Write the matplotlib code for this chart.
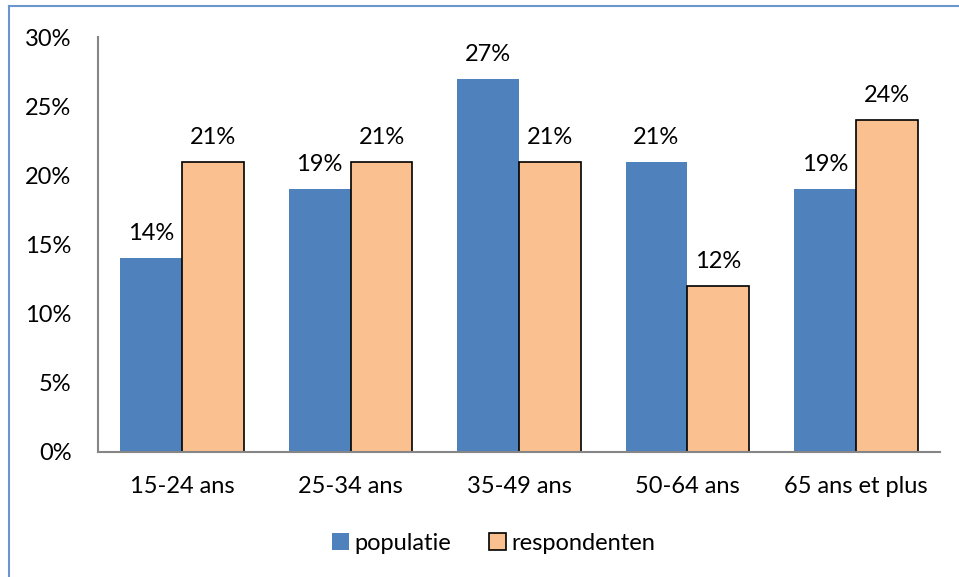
import numpy as np
import matplotlib
matplotlib.use('Agg')
import matplotlib.pyplot as plt
from matplotlib.patches import Patch
from matplotlib.lines import Line2D

matplotlib.rcParams['font.family'] = ['Lato', 'DejaVu Sans']

# Data
categories = ["15-24 ans", "25-34 ans", "35-49 ans", "50-64 ans", "65 ans et plus"]
populatie = [14, 19, 27, 21, 19]
respondenten = [21, 21, 21, 12, 24]
y_ticks = [0, 5, 10, 15, 20, 25, 30]

blue = '#4F81BD'
orange = '#FAC090'
axis_gray = '#868686'
fs = 17

fig = plt.figure(figsize=(9.59, 5.77), dpi=100)
ax = fig.add_axes([98 / 959, 1 - 452 / 577, 842 / 959, 415 / 577])

x = np.arange(len(categories))
w = 0.367
b1 = ax.bar(x - w / 2, populatie, w, color=blue, linewidth=0, label='populatie')
b2 = ax.bar(x + w / 2, respondenten, w, color=orange, edgecolor='black', linewidth=1.2,
            label='respondenten')

for bars, vals in [(b1, populatie), (b2, respondenten)]:
    for bar, v in zip(bars, vals):
        ax.annotate(f"{v}%", (bar.get_x() + bar.get_width() / 2, v),
                    xytext=(0, 10), textcoords='offset points',
                    ha='center', va='bottom', fontsize=fs)

ax.set_xlim(-0.5, len(categories) - 0.5)
ax.set_ylim(0, 30)
ax.set_yticks(y_ticks)
ax.set_yticklabels([f"{t}%" for t in y_ticks], fontsize=fs)
ax.set_xticks(x)
ax.set_xticklabels(categories, fontsize=fs)
ax.tick_params(axis='both', length=0)
ax.tick_params(axis='y', pad=19)
ax.tick_params(axis='x', pad=17)

for s in ['top', 'right']:
    ax.spines[s].set_visible(False)
for s in ['left', 'bottom']:
    ax.spines[s].set_color(axis_gray)
    ax.spines[s].set_linewidth(1.5)

handles = [Patch(facecolor=blue, edgecolor='none', label='populatie'),
           Patch(facecolor=orange, edgecolor='black', linewidth=1.2, label='respondenten')]
fig.legend(handles=handles, loc='center', bbox_to_anchor=(494 / 959, 1 - 543 / 577),
           ncol=2, frameon=False, fontsize=fs, handlelength=0.7, handleheight=0.7,
           handletextpad=0.25, columnspacing=1.6)

# outer chart frame (top and left visible)
fig.add_artist(Line2D([9 / 959, 9 / 959], [0, 1 - 6 / 577], transform=fig.transFigure,
                      color='#6A95CF', linewidth=1.5))
fig.add_artist(Line2D([9 / 959, 1], [1 - 6 / 577, 1 - 6 / 577], transform=fig.transFigure,
                      color='#6A95CF', linewidth=1.5))

fig.savefig('out.png', dpi=100)
